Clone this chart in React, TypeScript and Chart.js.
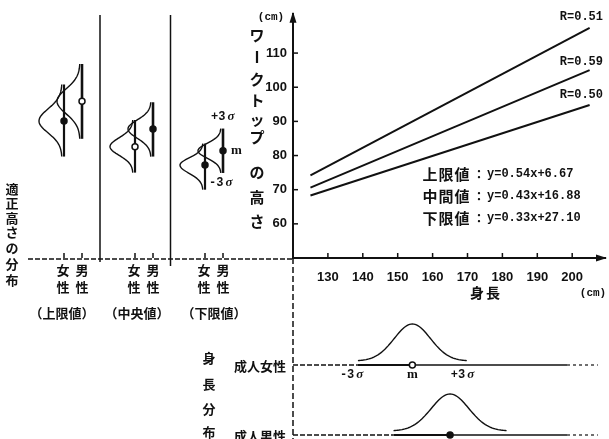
import React, { useEffect, useRef } from "react";
import { Chart, registerables } from "chart.js";

Chart.register(...registerables);

// ---- data ----
const heightX = [125, 205];
const upperLimit = [74.2, 117.4];
const middleValue = [70.6, 105.0];
const lowerLimit = [68.3, 94.8];
const rLabels = ["R=0.51", "R=0.59", "R=0.50"];
const eqNames = ["上限値", "中間値", "下限値"];
const eqFormulas = ["y=0.54x+6.67", "y=0.43x+16.88", "y=0.33x+27.10"];
const xTicks = [130, 140, 150, 160, 170, 180, 190, 200];
const yTicks = [60, 70, 80, 90, 100, 110];
const groupLabels = ["（上限値）", "（中央値）", "（下限値）"];
const femaleLow = [79.7, 75.0, 70.0];
const femaleMean = [90.1, 82.6, 77.2];
const femaleHigh = [100.8, 90.4, 83.5];
const maleLow = [84.9, 79.7, 74.9];
const maleMean = [95.9, 87.8, 81.4];
const maleHigh = [106.8, 95.6, 87.9];
const femaleDotHollow = [false, true, false];
const maleDotHollow = [true, false, false];
const heightGroups = ["成人女性", "成人男性"];
const heightMean = [154.2, 165.0];
const heightSD = [5.2, 5.4];

const INK = "#111";
const JP = (s: number) => `bold ${s}px "Noto Sans CJK JP", "Noto Sans CJK SC", sans-serif`;
const MONO = (s: number) => `bold ${s}px "Liberation Mono", "DejaVu Sans Mono", monospace`;
const TICK_FONT = { family: '"Liberation Sans", Arial, sans-serif', size: 13, weight: "bold" };

const decor = {
  id: "decor",
  afterDraw(chart: any) {
    const ctx = chart.ctx as CanvasRenderingContext2D;
    const xs = chart.scales.x;
    const ys = chart.scales.y;
    const X = (v: number) => xs.getPixelForValue(v);
    const Y = (v: number) => ys.getPixelForValue(v);
    const area = chart.chartArea;
    const ax = area.left;
    const ay = area.bottom;
    ctx.save();
    ctx.fillStyle = INK;
    ctx.strokeStyle = INK;

    const txt = (s: string, x: number, y: number, font: string, align: CanvasTextAlign = "center") => {
      ctx.font = font;
      ctx.textAlign = align;
      ctx.textBaseline = "middle";
      ctx.fillText(s, x, y);
    };
    const line = (x1: number, y1: number, x2: number, y2: number, w: number, dash: number[] = []) => {
      ctx.beginPath();
      ctx.setLineDash(dash);
      ctx.lineWidth = w;
      ctx.moveTo(x1, y1);
      ctx.lineTo(x2, y2);
      ctx.stroke();
      ctx.setLineDash([]);
    };
    const dot = (x: number, y: number, hollow: boolean) => {
      ctx.beginPath();
      ctx.arc(x, y, 3, 0, Math.PI * 2);
      ctx.fillStyle = hollow ? "#fff" : INK;
      ctx.fill();
      ctx.lineWidth = 1.5;
      ctx.stroke();
      ctx.fillStyle = INK;
    };
    const sigma = (prefix: string, x: number, y: number) => {
      ctx.font = MONO(12);
      ctx.textAlign = "left";
      ctx.textBaseline = "middle";
      ctx.fillText(prefix, x, y);
      const w = ctx.measureText(prefix).width;
      ctx.font = `italic bold 13px "Liberation Serif", "DejaVu Serif", serif`;
      ctx.fillText("σ", x + w + 2, y);
    };

    // arrows
    ctx.beginPath();
    ctx.moveTo(ax, area.top - 2);
    ctx.lineTo(ax - 3.5, area.top + 9);
    ctx.lineTo(ax + 3.5, area.top + 9);
    ctx.closePath();
    ctx.fill();
    ctx.beginPath();
    ctx.moveTo(area.right + 2, ay);
    ctx.lineTo(area.right - 9, ay - 3.5);
    ctx.lineTo(area.right - 9, ay + 3.5);
    ctx.closePath();
    ctx.fill();

    // inner tick marks
    yTicks.forEach((v) => line(ax, Y(v), ax + 5, Y(v), 1.5));
    xTicks.forEach((v) => line(X(v), ay, X(v), ay - 5, 1.5));

    // axis units and titles
    txt("(cm)", 271, 17, MONO(11));
    txt("(cm)", 593, 293, MONO(11));
    txt("身", 477, 293, JP(14));
    txt("長", 493, 293, JP(14));

    const yTitle: [string, number][] = [
      ["ワ", 35], ["ー", 57], ["ク", 79], ["ト", 100], ["ッ", 119], ["プ", 137], ["の", 172], ["高", 197], ["さ", 221],
    ];
    yTitle.forEach(([c, y]) => {
      if (c === "ー") {
        line(257, y - 6, 257, y + 6, 2.2);
      } else {
        txt(c, 257, y, JP(15));
      }
    });

    // R labels
    const rY = [17, 62, 95];
    rLabels.forEach((s, i) => txt(s, 603, rY[i], MONO(12), "right"));

    // equations
    const eqY = [174, 196, 218];
    eqNames.forEach((n, i) => {
      for (let k = 0; k < n.length; k++) txt(n[k], 430 + k * 16, eqY[i], JP(15));
      txt("：", 479, eqY[i], JP(12));
      txt(eqFormulas[i], 487, eqY[i], MONO(12), "left");
    });

    // left section: baseline & separators
    line(28, ay + 1, ax, ay + 1, 1.5, [5, 2]);
    line(100, 15, 100, 262, 1.5);
    line(170.5, 15, 170.5, 266, 1.5);
    line(ax, ay, ax, 439, 1.5, [6, 3]);

    // left glyphs
    const fX = [64, 135, 205];
    const mX = [82, 153, 223];
    const AMP = 23;
    const glyph = (cx: number, lo: number, m: number, hi: number, hollow: boolean, w: number) => {
      ctx.beginPath();
      ctx.lineWidth = 1.4;
      const n = 60;
      for (let k = 0; k <= n; k++) {
        const v = lo + ((hi - lo) * k) / n;
        const s = v >= m ? (hi - m) / 3 : (m - lo) / 3;
        const g = Math.exp(-0.5 * ((v - m) / s) ** 2);
        const px = cx - 2 - AMP * g;
        const py = Y(v);
        if (k === 0) ctx.moveTo(px, py);
        else ctx.lineTo(px, py);
      }
      ctx.stroke();
      line(cx, Y(hi), cx, Y(lo), w);
      dot(cx, Y(m), hollow);
    };
    for (let i = 0; i < 3; i++) {
      glyph(fX[i], femaleLow[i], femaleMean[i], femaleHigh[i], femaleDotHollow[i], 2.2);
      glyph(mX[i], maleLow[i], maleMean[i], maleHigh[i], maleDotHollow[i], 2.6);
      line(fX[i], ay, fX[i], ay - 5, 1.5);
      line(mX[i], ay, mX[i], ay - 5, 1.5);
      txt("女", fX[i] - 1, 270, JP(13));
      txt("性", fX[i] - 1, 287, JP(13));
      txt("男", mX[i], 270, JP(13));
      txt("性", mX[i], 287, JP(13));
    }
    const gCx = [62, 137, 214];
    groupLabels.forEach((s, i) => txt(s, gCx[i], 313, JP(13)));

    // lower-group annotations
    sigma("+3", 211, 117);
    txt("m", 231, 151, `bold 13px "Liberation Serif", serif`, "left");
    sigma("-3", 209, 183);

    // left vertical title
    const leftTitle = "適正高さの分布";
    const ltY = [189, 203, 218, 232, 248, 264, 280];
    for (let k = 0; k < leftTitle.length; k++) txt(leftTitle[k], 12, ltY[k], JP(13));

    // bottom: height distributions
    const baseY = [365, 435];
    const HAMP = 37;
    const bt = "身長分布";
    const btY = [358, 384, 409, 432];
    for (let k = 0; k < bt.length; k++) txt(bt[k], 209, btY[k], JP(13));
    heightGroups.forEach((g, i) => {
      const by = baseY[i];
      const m = heightMean[i];
      const s = heightSD[i];
      txt(g, 260, by + 1, JP(13));
      const lo = m - 3 * s;
      const hi = m + 3 * s;
      line(ax, by, X(lo), by, 1.3, [5, 2]);
      line(X(lo), by, X(m), by, 2);
      line(X(m), by, 567, by, 1.5);
      line(567, by, 598, by, 1.2, [3, 3]);
      ctx.beginPath();
      ctx.lineWidth = 1.4;
      const n = 80;
      for (let k = 0; k <= n; k++) {
        const v = lo + ((hi - lo) * k) / n;
        const gg = Math.exp(-0.5 * ((v - m) / s) ** 2);
        const px = X(v);
        const py = by - 4 - HAMP * gg;
        if (k === 0) ctx.moveTo(px, py);
        else ctx.lineTo(px, py);
      }
      ctx.stroke();
      dot(X(m), by, i === 0);
      if (i === 0) {
        sigma("-3", X(lo) - 18, by + 10);
        txt("m", X(m), by + 10, `bold 13px "Liberation Serif", serif`);
        sigma("+3", X(hi) - 16, by + 10);
      }
    });

    ctx.restore();
  },
};

export default function App() {
  const ref = useRef<HTMLCanvasElement | null>(null);
  useEffect(() => {
    if (!ref.current) return;
    const mk = (arr: number[]) => ({
      data: heightX.map((x, i) => ({ x, y: arr[i] })),
      showLine: true,
      borderColor: INK,
      borderWidth: 2,
      pointRadius: 0,
      fill: false,
    });
    const chart = new Chart(ref.current, {
      type: "scatter",
      data: { datasets: [mk(upperLimit), mk(middleValue), mk(lowerLimit)] as any },
      options: {
        responsive: false,
        animation: false,
        events: [],
        layout: { padding: { left: 253, right: 4, top: 10, bottom: 141 } },
        plugins: { legend: { display: false }, tooltip: { enabled: false } },
        scales: {
          x: {
            type: "linear",
            min: 120,
            max: 209.4,
            grid: { display: false, drawTicks: false },
            border: { display: true, color: INK, width: 2 },
            ticks: { color: INK, font: TICK_FONT, padding: 12, maxRotation: 0, autoSkip: false },
            afterBuildTicks: (s: any) => { s.ticks = xTicks.map((v) => ({ value: v })); },
            afterFit: (s: any) => { s.height = 40; },
          },
          y: {
            type: "linear",
            min: 50,
            max: 121.5,
            grid: { display: false, drawTicks: false },
            border: { display: true, color: INK, width: 2 },
            ticks: { color: INK, font: TICK_FONT, padding: 6, autoSkip: false },
            afterBuildTicks: (s: any) => { s.ticks = yTicks.map((v) => ({ value: v })); },
            afterFit: (s: any) => { s.width = 40; },
          },
        },
      } as any,
      plugins: [decor],
    });
    return () => chart.destroy();
  }, []);
  return (
    <div style={{ position: "fixed", left: 0, top: 0, width: 609, height: 439, background: "#fff" }}>
      <canvas ref={ref} width={609} height={439} style={{ display: "block" }} />
    </div>
  );
}
